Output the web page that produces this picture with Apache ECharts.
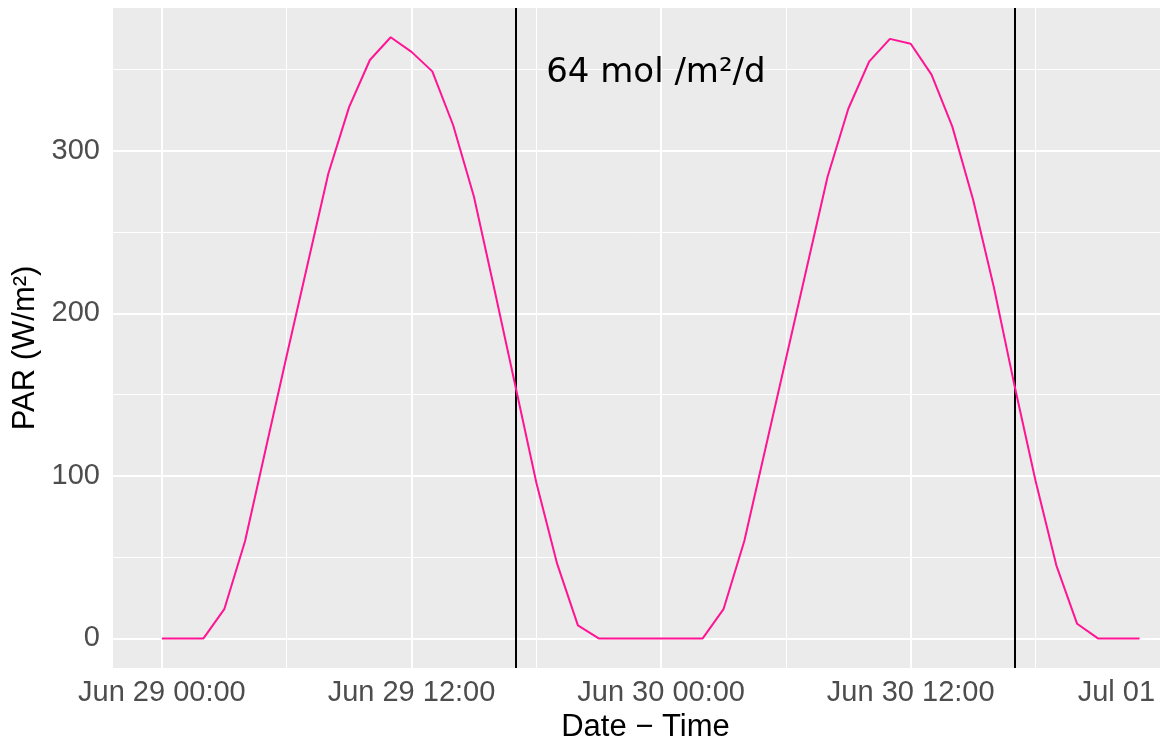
<!DOCTYPE html>
<html style="height: 100%">
<head>
<meta charset="utf-8">
<script src="https://cdn.jsdelivr.net/npm/echarts@6/dist/echarts.min.js"></script>
</head>
<body style="height: 100%; margin: 0; background: #fff;">
<div id="container" style="width: 1164px; height: 742px;"></div>
<script>
// hourly PAR readings, x = hours since Jun 29 00:00 (Jun 29 00:00 .. Jun 30 23:00)
var parDay1 = [0, 0, 0, 18, 60, 117, 174, 230, 286, 327, 356, 370,
               361, 349, 316, 272, 214, 155, 96, 46, 8, 0, 0, 0];
var parDay2 = [0, 0, 0, 18, 60, 116, 172, 228, 284, 326, 355, 369,
               366, 347, 315, 270, 216, 155, 97, 45, 9, 0, 0, 0];

var xTickHours = [0, 12, 24, 36, 48];
var xTickLabels = ['Jun 29 00:00', 'Jun 29 12:00', 'Jun 30 00:00', 'Jun 30 12:00', 'Jul 01'];
var xMinorHours = [6, 18, 30, 42];
var yTicks = [0, 100, 200, 300];
var yMinor = [50, 150, 250, 350];
var cutHours = [17, 41];           // Jun 29 17:00, Jun 30 17:00
var noteText = '64 mol /m²/d';
var notePos = [23.75, 348];

var parValues = parDay1.concat(parDay2);
var seriesData = parValues.map(function (v, i) {
  return [i, v];
});

var chart = echarts.init(document.getElementById('container'));
var gridLines = [];
xTickHours.forEach(function (h) { gridLines.push({xAxis: h, lineStyle: {width: 2}}); });
xMinorHours.forEach(function (h) { gridLines.push({xAxis: h, lineStyle: {width: 1}}); });
yTicks.forEach(function (v) { gridLines.push({yAxis: v, lineStyle: {width: 2}}); });
yMinor.forEach(function (v) { gridLines.push({yAxis: v, lineStyle: {width: 1}}); });

chart.setOption({
  animation: false,
  grid: {
    left: 113, right: 2, top: 8, bottom: 74,
    containLabel: false,
    outerBoundsMode: 'none',
    show: true, backgroundColor: '#EBEBEB', borderWidth: 0
  },
  xAxis: {
    type: 'value',
    min: -2.35,
    max: 48.08,
    name: 'Date \u2212 Time',
    nameLocation: 'middle',
    nameGap: 40,
    nameTextStyle: {fontFamily: 'Liberation Sans', fontSize: 31, color: '#000', padding: [0, 0, 0, 16]},
    axisLine: {show: false},
    splitLine: {show: false},
    axisTick: {show: true, length: 7, lineStyle: {color: '#333', width: 1.5}, customValues: xTickHours},
    axisLabel: {
      customValues: xTickHours,
      margin: 10,
      hideOverlap: false,
      fontFamily: 'Liberation Sans', fontSize: 29, color: '#4D4D4D',
      formatter: function (v) {
        var i = xTickHours.indexOf(Math.round(v));
        if (i === xTickLabels.length - 1) return '{last|' + xTickLabels[i] + '}';
        return i >= 0 ? xTickLabels[i] : '';
      },
      rich: {
        last: {fontFamily: 'Liberation Sans', fontSize: 29, color: '#4D4D4D', padding: [0, 88, 0, 0]}
      }
    }
  },
  yAxis: {
    type: 'value',
    min: -18.2,
    max: 388,
    name: 'PAR (W/m²)',
    nameLocation: 'middle',
    nameGap: 66,
    nameTextStyle: {fontFamily: 'Liberation Sans', fontSize: 31, color: '#000', padding: [0, 20, 0, 0]},
    axisLine: {show: false},
    splitLine: {show: false},
    axisTick: {show: true, length: 7, lineStyle: {color: '#333', width: 1.5}, customValues: yTicks},
    axisLabel: {
      customValues: yTicks,
      margin: 13,
      fontFamily: 'Liberation Sans', fontSize: 29, color: '#4D4D4D'
    }
  },
  series: [
    {
      type: 'line',
      data: [],
      zlevel: 0,
      silent: true,
      markLine: {
        silent: true,
        symbol: 'none',
        label: {show: false},
        lineStyle: {color: '#FFFFFF', type: 'solid'},
        data: gridLines
      }
    },
    {
      type: 'line',
      data: seriesData,
      zlevel: 1,
      showSymbol: false,
      lineStyle: {color: '#FF1493', width: 2},
      itemStyle: {color: '#FF1493'}
    },
    {
      type: 'line',
      data: [],
      zlevel: 1,
      z: 4,
      silent: true,
      markLine: {
        silent: true,
        symbol: 'none',
        label: {show: false},
        lineStyle: {color: '#000000', type: 'solid', width: 2},
        data: cutHours.map(function (h) { return {xAxis: h}; })
      },
      markPoint: {
        silent: true,
        symbol: 'circle',
        symbolSize: 1,
        itemStyle: {color: 'rgba(0,0,0,0)'},
        label: {
          show: true,
          position: 'inside',
          fontFamily: 'DejaVu Sans',
          fontSize: 34,
          color: '#000',
          formatter: noteText
        },
        data: [{coord: notePos}]
      }
    }
  ]
});
</script>
</body>
</html>
